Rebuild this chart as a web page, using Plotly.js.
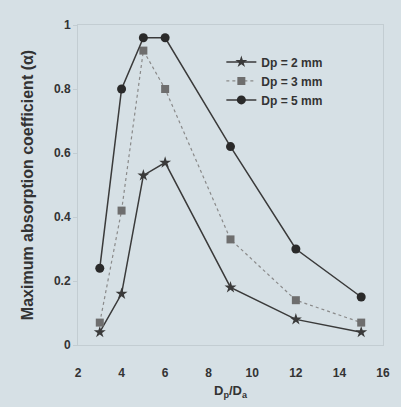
<!DOCTYPE html>
<html><head><meta charset="utf-8">
<script src="https://cdn.plot.ly/plotly-3.0.1.min.js"></script>
<style>html,body{margin:0;padding:0;background:#d6e0e5;}</style>
</head><body>
<div id="chart" style="width:401px;height:407px;"></div>
<script>
const ratio = [3, 4, 5, 6, 9, 12, 15];
const seriesNames = ["Dp = 2 mm", "Dp = 3 mm", "Dp = 5 mm"];
const dp2 = [0.04, 0.16, 0.53, 0.57, 0.18, 0.08, 0.04];
const dp3 = [0.07, 0.42, 0.92, 0.80, 0.33, 0.14, 0.07];
const dp5 = [0.24, 0.80, 0.96, 0.96, 0.62, 0.30, 0.15];
const xTicks = [2, 4, 6, 8, 10, 12, 14, 16];
const yTicks = [0, 0.2, 0.4, 0.6, 0.8, 1];
const yTickText = ["0", "0.2", "0.4", "0.6", "0.8", "1"];

const traces = [
  {x: ratio, y: dp2, name: "<b>" + seriesNames[0] + "</b>", mode: "lines+markers",
   line: {color: "#3a3a3a", width: 1.5},
   marker: {symbol: "star", size: 9, color: "#3a3a3a"}},
  {x: ratio, y: dp3, name: "<b>" + seriesNames[1] + "</b>", mode: "lines+markers",
   line: {color: "#8a8a8a", width: 1.2, dash: "dot"},
   marker: {symbol: "square", size: 8, color: "#6e6e6e"}},
  {x: ratio, y: dp5, name: "<b>" + seriesNames[2] + "</b>", mode: "lines+markers",
   line: {color: "#3a3a3a", width: 1.5},
   marker: {symbol: "circle", size: 9, color: "#2a2a2a"}}
];

const layout = {
  width: 401, height: 407,
  paper_bgcolor: "#d6e0e5", plot_bgcolor: "#d6e0e5",
  margin: {l: 78, r: 18, t: 25, b: 62},
  font: {family: "Liberation Sans, Arial, sans-serif", color: "#3a3a3a", size: 12},
  showlegend: true,
  legend: {x: 0.47, y: 0.93, xanchor: "left", yanchor: "top",
    bgcolor: "rgba(0,0,0,0)", font: {size: 12, color: "#333"}},
  xaxis: {range: [2, 16], tickvals: xTicks, ticktext: xTicks.map(v => "<b>" + v + "</b>"),
    showgrid: false, zeroline: false, showline: true, linecolor: "#c3cdd2",
    mirror: true, ticks: "", ticklabelstandoff: 17, tickfont: {size: 12, color: "#333"},
    title: {text: "<b>D<sub>p</sub>/D<sub>a</sub></b>", font: {size: 13, color: "#333"}, standoff: 6}},
  yaxis: {range: [0, 1.0], tickvals: yTicks, ticktext: yTickText.map(v => "<b>" + v + "</b>"),
    showgrid: false, zeroline: false, showline: true, linecolor: "#c3cdd2",
    mirror: true, ticks: "outside", ticklen: 4, tickcolor: "#c3cdd2",
    tickfont: {size: 12, color: "#333"},
    title: {text: "<b>Maximum absorption coefficient (α)</b>", font: {size: 16, color: "#333"}, standoff: 16}}
};
Plotly.newPlot("chart", traces, layout, {displayModeBar: false, staticPlot: true});
</script>
</body></html>
